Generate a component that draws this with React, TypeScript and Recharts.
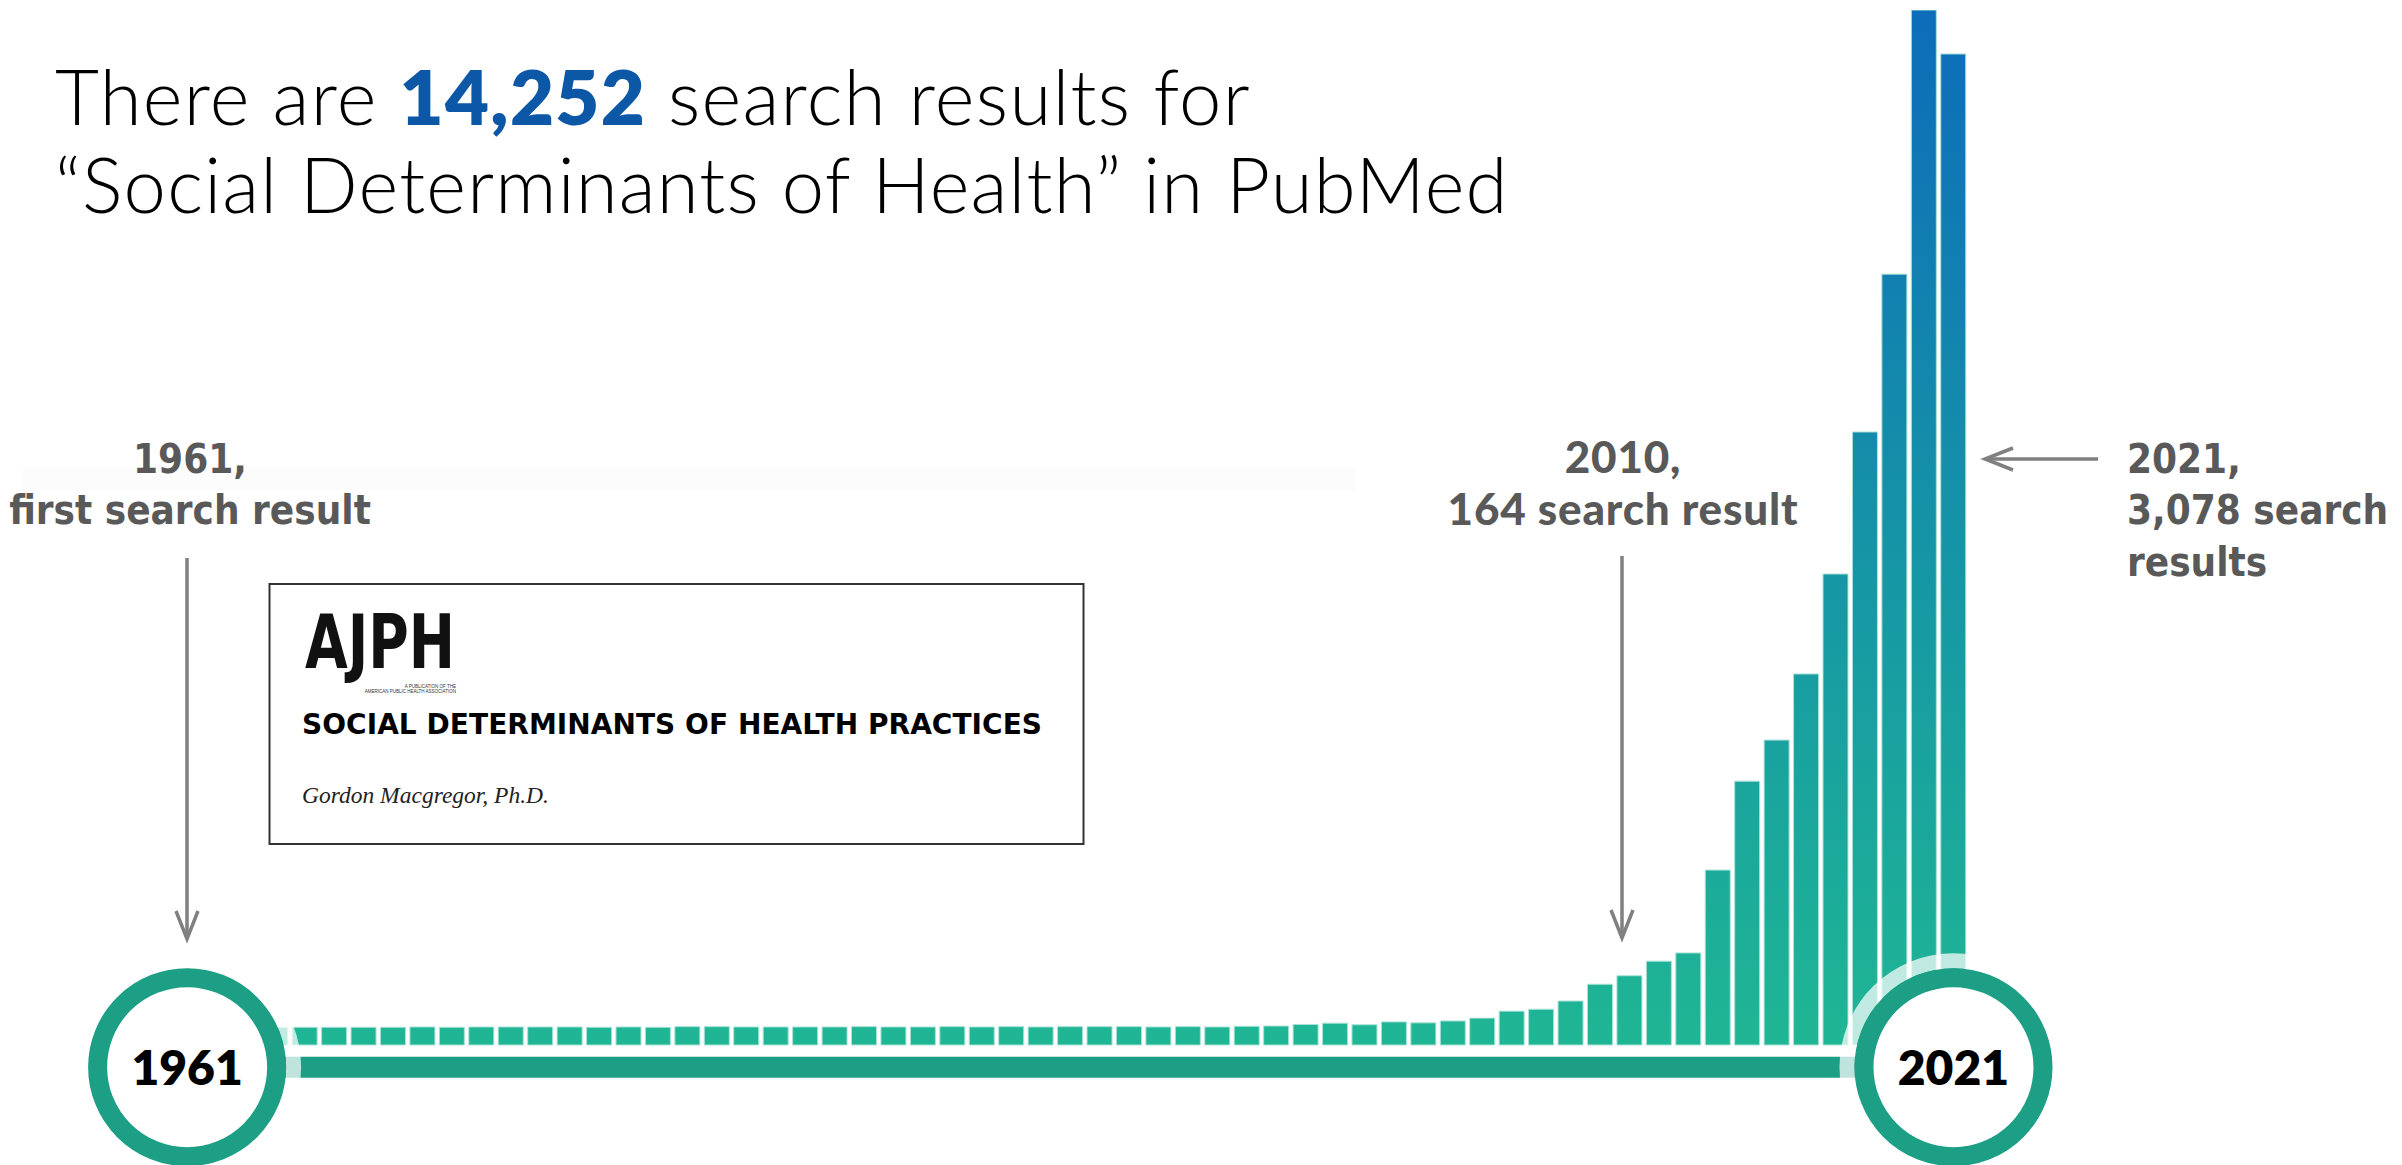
import React from 'react'
import { BarChart, Bar, XAxis, YAxis, ReferenceLine, ReferenceDot } from 'recharts'

// PubMed hits for "Social Determinants of Health", one bar per year
const years = [
  '1961', '1962', '1963', '1964', '1965', '1966', '1967', '1968', '1969', '1970',
  '1971', '1972', '1973', '1974', '1975', '1976', '1977', '1978', '1979', '1980',
  '1981', '1982', '1983', '1984', '1985', '1986', '1987', '1988', '1989', '1990',
  '1991', '1992', '1993', '1994', '1995', '1996', '1997', '1998', '1999', '2000',
  '2001', '2002', '2003', '2004', '2005', '2006', '2007', '2008', '2009', '2010',
  '2011', '2012', '2013', '2014', '2015', '2016', '2017', '2018', '2019', '2020',
  '2021'
]
const results = [
  1, 0, 1, 0, 1, 1, 1, 1, 2, 1,
  2, 2, 2, 2, 1, 2, 1, 3, 3, 2,
  2, 2, 2, 3, 2, 2, 3, 2, 3, 2,
  3, 3, 3, 2, 3, 2, 4, 5, 10, 14,
  9, 18, 15, 21, 30, 52, 58, 84, 137, 164,
  210, 236, 498, 779, 909, 1118, 1434, 1883, 2382, 3217,
  3078
]
const firstYear = '1961'
const lastYear = '2021'

// value-axis levels: bars start a little below zero so empty years still show
const BAR_FLOOR = -55
const TIMELINE_LEVEL = -125
const AXIS_MIN = -200
const AXIS_MAX = 3217

const data = years.map((year, i) => ({ year, results: results[i] }))

const TEAL = '#1c9f84'
const GREY = '#595959'
const ARROW = '#808080'
const condensed = "'Liberation Sans Narrow', 'DejaVu Sans Condensed', 'Roboto Condensed', Roboto, sans-serif"
const geometric = "Lato, 'Open Sans', sans-serif"

const YearBadge = (props: any) => {
  const { cx, cy, label } = props
  return (
    <g>
      <circle cx={cx} cy={cy} r={106.5} fill="none" stroke="#fff" strokeOpacity={0.72} strokeWidth={15} />
      <circle cx={cx} cy={cy} r={89.5} fill="#fff" stroke={TEAL} strokeWidth={19} />
      <text x={cx} y={cy + 17.5} textAnchor="middle" fontFamily={geometric} fontWeight={800} fontSize={48} fill="#000">
        {label}
      </text>
    </g>
  )
}

const Arrow = ({ x1, y1, x2, y2 }: { x1: number; y1: number; x2: number; y2: number }) => {
  const len = Math.hypot(x2 - x1, y2 - y1)
  const ux = (x2 - x1) / len
  const uy = (y2 - y1) / len
  const hx = x2 - ux * 28
  const hy = y2 - uy * 28
  return (
    <g stroke={ARROW} strokeWidth={3.5} fill="none">
      <line x1={x1} y1={y1} x2={x2 - ux * 2} y2={y2 - uy * 2} />
      <polyline
        points={`${hx - uy * 11},${hy + ux * 11} ${x2},${y2} ${hx + uy * 11},${hy - ux * 11}`}
        strokeLinejoin="miter"
      />
    </g>
  )
}

const Annotations = () => (
  <svg width={2402} height={1165} style={{ position: 'absolute', left: 0, top: 0, pointerEvents: 'none' }}>
    <rect x={23} y={467} width={1333} height={23} fill="#fcfcfc" />

    <text x={55} y={125} fontFamily={geometric} fontWeight={300} fontSize={76} letterSpacing={1.3} fill="#000">
      There are <tspan fontWeight={800} fill="#0c57a6">14,252</tspan> search results for
    </text>
    <text x={55} y={213} fontFamily={geometric} fontWeight={300} fontSize={76} letterSpacing={1.2} fill="#000">
      “Social Determinants of Health” in PubMed
    </text>

    <g fontFamily={condensed} fontWeight={700} fontSize={40} fill={GREY} textAnchor="middle">
      <text x={190} y={473}>1961,</text>
      <text x={190} y={524}>first search result</text>
    </g>
    <g fontFamily={geometric} fontWeight={900} fontSize={44} letterSpacing={0.8} fill={GREY} textAnchor="middle">
      <text x={1623} y={473}>2010,</text>
      <text x={1623} y={525}>164 search result</text>
    </g>
    <g fontFamily={condensed} fontWeight={700} fontSize={40} fill={GREY}>
      <text x={2127} y={473}>2021,</text>
      <text x={2127} y={524}>3,078 search</text>
      <text x={2127} y={576}>results</text>
    </g>

    <Arrow x1={187} y1={558} x2={187} y2={939} />
    <Arrow x1={1622} y1={556} x2={1622} y2={938} />
    <Arrow x1={2098} y1={459} x2={1985} y2={459} />

    <rect x={269.5} y={584} width={814} height={260} fill="#fff" stroke="#333" strokeWidth={2} />
    <text x={305} y={668} fontFamily={condensed} fontWeight={700} fontSize={74} fill="#111" textLength={150} lengthAdjust="spacingAndGlyphs">
      AJPH
    </text>
    <text x={456} y={688} fontFamily="'Liberation Sans', sans-serif" fontSize={4.5} fill="#333" textAnchor="end">A PUBLICATION OF THE</text>
    <text x={456} y={693} fontFamily="'Liberation Sans', sans-serif" fontSize={4.5} fill="#333" textAnchor="end">AMERICAN PUBLIC HEALTH ASSOCIATION</text>
    <text x={302} y={734} fontFamily="'DejaVu Sans', sans-serif" fontWeight={700} fontSize={28} fill="#000" textLength={740} lengthAdjust="spacing">
      SOCIAL DETERMINANTS OF HEALTH PRACTICES
    </text>
    <text x={302} y={803} fontFamily="'Liberation Serif', serif" fontStyle="italic" fontSize={23.5} fill="#222">
      Gordon Macgregor, Ph.D.
    </text>
  </svg>
)

export default function App() {
  return (
    <div style={{ position: 'absolute', left: 0, top: 0, width: 2402, height: 1165, background: '#fff', overflow: 'hidden' }}>
      <BarChart
        width={2402}
        height={1165}
        data={data}
        margin={{ top: 10, right: 433.8, bottom: 74.13, left: 172.4 }}
      >
        <defs>
          <linearGradient id="barGrad" gradientUnits="userSpaceOnUse" x1="0" y1="10" x2="0" y2="1045">
            <stop offset="0%" stopColor="#0d6cba" />
            <stop offset="55%" stopColor="#1697a5" />
            <stop offset="100%" stopColor="#1fb694" />
          </linearGradient>
        </defs>
        <XAxis dataKey="year" hide height={0} />
        <YAxis hide width={0} type="number" domain={[AXIS_MIN, AXIS_MAX]} allowDataOverflow />
        <Bar
          dataKey={(d: any) => [BAR_FLOOR, d.results]}
          barSize={25}
          fill="url(#barGrad)"
          stroke="#a8e2d5"
          strokeWidth={1}
          isAnimationActive={false}
        />
        <ReferenceLine
          segment={[{ x: firstYear, y: TIMELINE_LEVEL }, { x: lastYear, y: TIMELINE_LEVEL }]}
          stroke={TEAL}
          strokeWidth={21}
        />
        <ReferenceDot
          x={firstYear}
          y={TIMELINE_LEVEL}
          r={89.5}
          shape={(p: any) => <YearBadge {...p} label={firstYear} />}
        />
        <ReferenceDot
          x={lastYear}
          y={TIMELINE_LEVEL}
          r={89.5}
          shape={(p: any) => <YearBadge {...p} label={lastYear} />}
        />
      </BarChart>
      <Annotations />
    </div>
  )
}
